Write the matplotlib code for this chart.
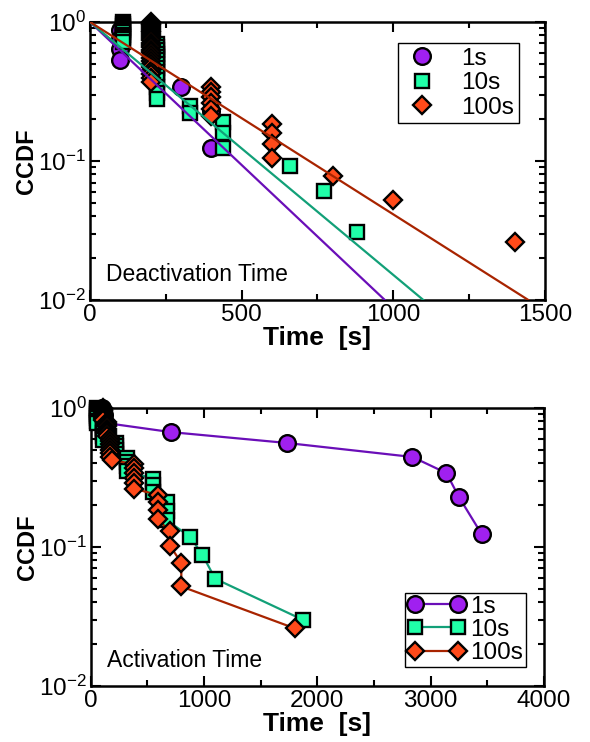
import math
import matplotlib
matplotlib.use('Agg')
import matplotlib.pyplot as plt
from matplotlib.lines import Line2D
from matplotlib.ticker import LogLocator, MultipleLocator, FuncFormatter, NullFormatter

plt.rcParams['font.family'] = ['Liberation Sans', 'DejaVu Sans']
plt.rcParams['mathtext.fontset'] = 'custom'
plt.rcParams['mathtext.rm'] = 'Liberation Sans'
plt.rcParams['mathtext.it'] = 'Liberation Sans:italic'
plt.rcParams['mathtext.bf'] = 'Liberation Sans:bold'

# ---------------------------------------------------------------------------
#  Data
# ---------------------------------------------------------------------------
labels = ['1s', '10s', '100s']

# Deactivation time (top panel), scatter + exponential fits
deact_t_1s = [100, 100, 100, 100, 300, 400, 400]
deact_c_1s = [0.87, 0.75, 0.64, 0.53, 0.34, 0.23, 0.125]

deact_t_10s = [110, 110, 110, 110, 110, 110, 110, 110, 110, 110,
               220, 220, 220, 220, 220, 220, 220, 220, 220, 220, 220, 220, 220, 220,
               330, 330, 440, 440, 440, 660, 770, 880]
deact_c_10s = [1.0, 0.97, 0.94, 0.91, 0.88, 0.84, 0.81, 0.78, 0.75, 0.72,
               0.69, 0.66, 0.63, 0.59, 0.56, 0.53, 0.50, 0.47, 0.44, 0.41, 0.38, 0.34, 0.31, 0.28,
               0.25, 0.22, 0.19, 0.16, 0.125, 0.092, 0.061, 0.031]

deact_t_100s = [200, 200, 200, 200, 200, 200, 200, 200, 200, 200, 200, 200, 200,
                200, 200, 200, 200, 200, 200, 200, 200, 200, 200, 200, 200,
                400, 400, 400, 400, 400, 400, 600, 600, 600, 600, 800, 1000, 1400]
deact_c_100s = [1.0, 0.974, 0.947, 0.921, 0.895, 0.868, 0.842, 0.816, 0.789, 0.763,
                0.737, 0.711, 0.684, 0.658, 0.632, 0.605, 0.579, 0.553, 0.526, 0.5,
                0.474, 0.447, 0.421, 0.395, 0.368,
                0.342, 0.316, 0.289, 0.263, 0.237, 0.211,
                0.184, 0.158, 0.132, 0.105, 0.078, 0.052, 0.026]

# exponential fits: start at (0, 1), reach 1e-2 at these times
fit_t_1s = [0, 972]
fit_t_10s = [0, 1099]
fit_t_100s = [0, 1445]
fit_c = [1.0, 0.01]

# Activation time (bottom panel), CCDF with connecting lines
act_t_1s = [100, 115, 130, 710, 1730, 2840, 3140, 3250, 3450]
act_c_1s = [1.0, 0.89, 0.78, 0.67, 0.56, 0.444, 0.34, 0.229, 0.124]

act_t_10s = [60, 60, 60, 60, 60, 60, 60, 60, 110, 110, 110, 110, 110, 110,
             220, 220, 220, 220, 320, 320, 320, 320, 550, 550, 550,
             670, 670, 670, 880, 985, 1100, 1870]
act_c_10s = [1.0, 0.97, 0.94, 0.91, 0.88, 0.84, 0.81, 0.78, 0.75, 0.72, 0.69, 0.66, 0.63, 0.59,
             0.56, 0.53, 0.50, 0.47, 0.44, 0.41, 0.38, 0.35, 0.31, 0.28, 0.25,
             0.21, 0.18, 0.156, 0.118, 0.088, 0.059, 0.030]

act_t_100s = [110, 110, 110, 110, 110, 110, 110, 110, 140, 140, 140, 140, 140, 140, 140,
              170, 170, 170, 170, 170, 170, 170, 190,
              380, 380, 380, 380, 380, 380, 590, 590, 590, 590, 700, 700, 800, 800, 1800]
act_c_100s = [1.0, 0.974, 0.947, 0.921, 0.895, 0.868, 0.842, 0.816, 0.789, 0.763,
              0.737, 0.711, 0.684, 0.658, 0.632, 0.605, 0.579, 0.553, 0.526, 0.5,
              0.474, 0.447, 0.421,
              0.395, 0.368, 0.342, 0.316, 0.289, 0.263,
              0.237, 0.211, 0.184, 0.158, 0.130, 0.102, 0.077, 0.052, 0.026]

# ---------------------------------------------------------------------------
#  Styles
# ---------------------------------------------------------------------------
FACE = {'1s': '#a020f0', '10s': '#20ffa8', '100s': '#ff4a1a'}
LINE = {'1s': '#6a0eb8', '10s': '#12a078', '100s': '#a82400'}
MARK = {'1s': 'o', '10s': 's', '100s': 'D'}
MSIZE = {'1s': 12, '10s': 10.5, '100s': 9.5}
MEW = 1.7


def sci_fmt(v, pos):
    e = int(round(math.log10(v)))
    return r'$\mathregular{10^{%d}}$' % e


def style_axes(ax, xmax, xmajor, xminor):
    ax.set_yscale('log')
    ax.set_ylim(0.01, 1.0)
    ax.set_xlim(0, xmax)
    ax.xaxis.set_major_locator(MultipleLocator(xmajor))
    ax.xaxis.set_minor_locator(MultipleLocator(xminor))
    ax.yaxis.set_major_locator(LogLocator(base=10, numticks=5))
    ax.yaxis.set_minor_locator(LogLocator(base=10, subs=range(2, 10), numticks=20))
    ax.yaxis.set_major_formatter(FuncFormatter(sci_fmt))
    ax.yaxis.set_minor_formatter(NullFormatter())
    ax.tick_params(which='both', direction='in', top=True, right=True,
                   width=1.5, labelsize=17.5)
    ax.tick_params(which='major', length=7, pad=3)
    ax.tick_params(which='minor', length=4)
    for sp in ax.spines.values():
        sp.set_linewidth(1.8)
    ax.set_xlabel('Time  [s]', fontsize=19, fontweight='bold', labelpad=0)
    ax.set_ylabel('CCDF', fontsize=17, fontweight='bold', labelpad=0)


fig = plt.figure(figsize=(5.9, 7.42), dpi=100)
ax1 = fig.add_axes([0.1525, 0.5957, 0.7712, 0.3747])
ax2 = fig.add_axes([0.1537, 0.0755, 0.7681, 0.3747])

# ---- top: deactivation ----
top_data = [(deact_t_1s, deact_c_1s), (deact_t_10s, deact_c_10s), (deact_t_100s, deact_c_100s)]
for lab, (t, c) in zip(labels, top_data):
    ax1.plot(t, c, linestyle='none', marker=MARK[lab], ms=MSIZE[lab],
             mfc=FACE[lab], mec='black', mew=MEW, clip_on=False, zorder=3, label=lab)
for lab, ft in zip(labels, [fit_t_1s, fit_t_10s, fit_t_100s]):
    ax1.plot(ft, fit_c, color=LINE[lab], lw=1.6, zorder=4)

style_axes(ax1, 1500, 500, 250)
h1 = [Line2D([], [], linestyle='none', marker=MARK[l], ms=MSIZE[l], mfc=FACE[l],
             mec='black', mew=MEW) for l in labels]
leg1 = ax1.legend(h1, labels, loc='upper right', bbox_to_anchor=(0.943, 0.925),
                  fontsize=17.5, frameon=True, fancybox=False, edgecolor='black',
                  framealpha=1, borderpad=0.2, labelspacing=0.1, handletextpad=0.8,
                  handlelength=1.6, borderaxespad=0)
leg1.get_frame().set_linewidth(1.0)
ax1.text(0.035, 0.068, 'Deactivation Time', transform=ax1.transAxes, fontsize=16.5,
         ha='left', va='baseline')

# ---- bottom: activation ----
bot_data = [(act_t_1s, act_c_1s), (act_t_10s, act_c_10s), (act_t_100s, act_c_100s)]
for lab, (t, c) in zip(labels, bot_data):
    ax2.plot(t, c, color=LINE[lab], lw=1.6, marker=MARK[lab], ms=MSIZE[lab],
             mfc=FACE[lab], mec='black', mew=MEW, clip_on=False, zorder=3, label=lab)

style_axes(ax2, 4000, 1000, 500)
leg2 = ax2.legend(loc='lower right', bbox_to_anchor=(0.96, 0.07), fontsize=17.5,
                  frameon=True, fancybox=False, edgecolor='black', framealpha=1,
                  numpoints=2, borderpad=0.1, labelspacing=0.05, handletextpad=0.2,
                  handlelength=2.4, borderaxespad=0)
leg2.get_frame().set_linewidth(1.0)
ax2.text(0.035, 0.068, 'Activation Time', transform=ax2.transAxes, fontsize=16.5,
         ha='left', va='baseline')

fig.savefig('out.png', dpi=100)
